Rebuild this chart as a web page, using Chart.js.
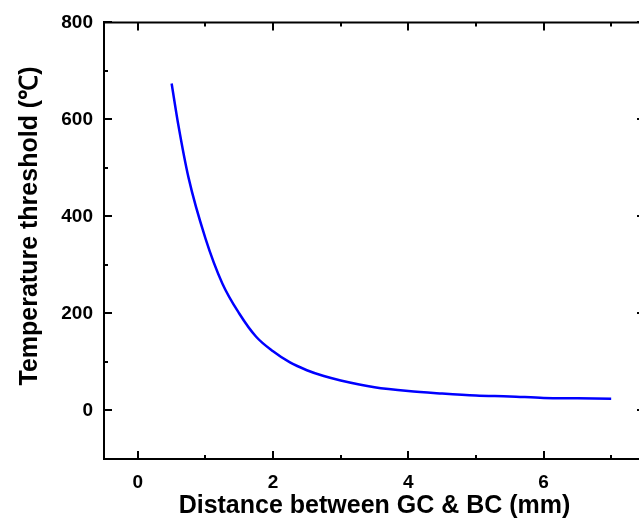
<!DOCTYPE html>
<html>
<head>
<meta charset="utf-8">
<script src="https://cdn.jsdelivr.net/npm/chart.js@4"></script>
<style>
  html, body { margin: 0; padding: 0; background: #fff; overflow: hidden; }
  canvas { display: block; }
</style>
</head>
<body>
<canvas id="grafico" width="660" height="521"></canvas>
<script>
// distance between GC and BC (mm)
var distancias = [0.5, 0.6, 0.75, 1, 1.25, 1.5, 1.75, 2, 2.25, 2.5, 2.75, 3, 3.5, 4, 4.5, 5, 5.5, 6, 6.5, 7];
// temperature threshold (deg C)
var limiares = [674, 588, 480, 355, 262, 200, 152, 122, 99, 83, 71, 62, 48, 40, 35, 31, 29, 26, 25, 24];

var xMajor = [0, 2, 4, 6];
var xMinor = [1, 3, 5, 7];
var yMajor = [0, 200, 400, 600, 800];
var yMinor = [100, 300, 500, 700];

var tituloY = 'Temperature threshold (℃)';
var fonte = "'Liberation Sans', Arial, sans-serif";

// frame on top/right, inward ticks on all four sides, y title
var moldura = {
    id: 'moldura',
    afterDraw: function(chart) {
        var ctx = chart.ctx;
        var a = chart.chartArea;
        var sx = chart.scales.x, sy = chart.scales.y;
        ctx.save();
        ctx.strokeStyle = '#000';
        ctx.lineWidth = 2;
        ctx.beginPath();
        ctx.moveTo(a.left, a.top);
        ctx.lineTo(a.right, a.top);
        ctx.lineTo(a.right, a.bottom);
        ctx.stroke();

        function marcaX(v, len) {
            var px = Math.round(sx.getPixelForValue(v));
            ctx.moveTo(px, a.bottom);
            ctx.lineTo(px, a.bottom - len);
            ctx.moveTo(px, a.top);
            ctx.lineTo(px, a.top + len);
        }
        function marcaY(v, len) {
            var py = Math.round(sy.getPixelForValue(v));
            ctx.moveTo(a.left, py);
            ctx.lineTo(a.left + len, py);
            ctx.moveTo(a.right, py);
            ctx.lineTo(a.right - len, py);
        }
        ctx.beginPath();
        xMajor.forEach(function(v) { marcaX(v, 8); });
        xMinor.forEach(function(v) { marcaX(v, 4); });
        yMajor.forEach(function(v) { marcaY(v, 8); });
        yMinor.forEach(function(v) { marcaY(v, 4); });
        ctx.stroke();

        // y axis title
        ctx.translate(30, 226);
        ctx.rotate(-Math.PI / 2);
        ctx.fillStyle = '#000';
        ctx.font = 'bold 25px ' + fonte;
        ctx.textAlign = 'center';
        ctx.textBaseline = 'middle';
        ctx.fillText(tituloY, 0, 0);
        ctx.restore();
    }
};

var pontos = distancias.map(function(d, i) { return { x: d, y: limiares[i] }; });

var ctx = document.getElementById('grafico').getContext('2d');
var chart = new Chart(ctx, {
    type: 'line',
    data: {
        datasets: [{
            data: pontos,
            borderColor: '#0000ff',
            borderWidth: 2.5,
            pointRadius: 0,
            fill: false,
            cubicInterpolationMode: 'monotone'
        }]
    },
    options: {
        responsive: false,
        animation: false,
        layout: { padding: { left: 0, top: 22, right: 15, bottom: 0 } },
        plugins: {
            legend: { display: false },
            tooltip: { enabled: false }
        },
        scales: {
            x: {
                type: 'linear',
                min: -0.5,
                max: 7.5,
                afterBuildTicks: function(s) { s.ticks = xMajor.map(function(v) { return { value: v }; }); },
                afterFit: function(s) { s.height = 62; },
                grid: { display: false, drawTicks: false },
                border: { display: true, color: '#000', width: 2 },
                ticks: {
                    color: '#000',
                    padding: 12,
                    maxRotation: 0,
                    font: { family: fonte, size: 19, weight: 'bold' }
                },
                title: {
                    display: true,
                    text: 'Distance between GC & BC (mm)',
                    color: '#000',
                    padding: 0,
                    font: { family: fonte, size: 25, weight: 'bold' }
                }
            },
            y: {
                type: 'linear',
                min: -100,
                max: 800,
                afterBuildTicks: function(s) { s.ticks = yMajor.map(function(v) { return { value: v }; }); },
                afterFit: function(s) { s.width = 104; },
                grid: { display: false, drawTicks: false },
                border: { display: true, color: '#000', width: 2 },
                ticks: {
                    color: '#000',
                    padding: 11,
                    font: { family: fonte, size: 19, weight: 'bold' }
                }
            }
        }
    },
    plugins: [moldura]
});
</script>
</body>
</html>
